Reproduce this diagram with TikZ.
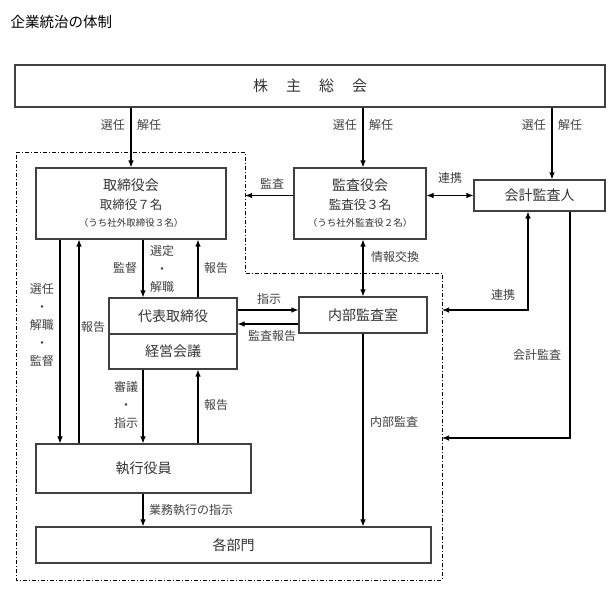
\documentclass[tikz,border=0pt]{standalone}
\usepackage{fontspec}
\setmainfont{Noto Sans CJK JP}
\usetikzlibrary{arrows.meta}

\begin{document}
\begin{tikzpicture}[x=1pt, y=-1pt, >={Latex[length=7pt,width=5.5pt]},
  box/.style={draw=black!75, line width=1.1pt, inner sep=0pt, align=center,
    font=\fontsize{14}{16}\selectfont, text=black!80},
  lbl/.style={font=\fontsize{12}{18}\selectfont, text=black!75, inner sep=1pt, align=center},
  arr/.style={->, line width=1.1pt},
  govframe/.style={line width=0.8pt, dash pattern=on 4pt off 2pt on 1pt off 2pt}]

\def \xdown {143} % down arrows in the middle column
\def \xup {198}   % up arrows (報告)

\useasboundingbox (0,0) rectangle (614,601);

\node[anchor=west, font=\fontsize{14.5}{16}\selectfont] (title) at (7,22) {企業統治の体制};

% boxes
\node[box, minimum width=590pt, minimum height=42pt, font=\fontsize{15}{16}\selectfont] (soukai) at (310,86)
  {株\hspace{18pt}主\hspace{18pt}総\hspace{18pt}会};
\node[box, minimum width=190pt, minimum height=71pt] (torishimari) at (131,203.5)
  {取締役会\\[3pt]{\fontsize{12.5}{14}\selectfont 取締役７名}\\[1pt]{\fontsize{9.5}{12}\selectfont （うち社外取締役３名）}};
\node[box, minimum width=132pt, minimum height=71pt] (kansayaku) at (360,203.5)
  {監査役会\\[3pt]{\fontsize{12.5}{14}\selectfont 監査役３名}\\[1pt]{\fontsize{9.5}{12}\selectfont （うち社外監査役２名）}};
\node[box, minimum width=131pt, minimum height=31pt] (kaikei) at (539.5,195.5) {会計監査人};
\node[box, minimum width=128pt, minimum height=36pt] (daihyo) at (173,316) {代表取締役};
\node[box, minimum width=128pt, minimum height=35pt] (keiei) at (173,351.5) {経営会議};
\node[box, minimum width=128pt, minimum height=36pt] (naibu) at (363,315) {内部監査室};
\node[box, minimum width=215pt, minimum height=49pt] (shikko) at (143.5,468.5) {執行役員};
\node[box, minimum width=395pt, minimum height=36pt] (kakubu) at (233.5,545) {各部門};

% dash-dot frame
\coordinate (frameNW) at (16,152);
\coordinate (frameN) at (245,152);
\coordinate (frameM) at (245,273);
\coordinate (frameE) at (442,273);
\coordinate (frameSE) at (442,580);
\coordinate (frameSW) at (16,580);
\draw[govframe] (frameNW) -- (frameN) -- (frameM) -- (frameE) -- (frameSE) -- (frameSW) -- cycle;

% 株主総会
\foreach \x/\tgt in {131/torishimari, 363/kansayaku, 552/kaikei}
{
	\draw[arr] (soukai.south -| \x,0) -- (\tgt.north -| \x,0);
	\node[lbl, anchor=east] at (\x-5,125) {選任};
	\node[lbl, anchor=west] at (\x+5,125) {解任};
}

% 監査役会, 会計監査人
\draw[arr] (kansayaku.west |- kaikei.west) -- (frameN |- kaikei.west);
\node[lbl] (lkansa) at (272,184) {監査};
\draw[<->, line width=1.1pt] (kansayaku.east |- kaikei.west) -- (kaikei.west);
\node[lbl] (lrenkei) at (450,178) {連携};
\draw[<->, line width=1.1pt] (kansayaku.south -| naibu.north) -- (naibu.north);
\node[lbl] (ljoho) at (395,257) {情報交換};

\coordinate (renkei) at (528,310);
\draw[<->, line width=1.1pt] (kaikei.south -| renkei) -- (renkei) -- (frameE |- renkei);
\node[lbl] (lrenkei2) at (503,295) {連携};
\coordinate (kkansa) at (570,438);
\draw[arr] (kaikei.south -| kkansa) -- (kkansa) -- (frameE |- kkansa);
\node[lbl] (lkkansa) at (537,355) {会計監査};

% 取締役会 -- 代表取締役 -- 執行役員
\draw[arr] (torishimari.south -| \xdown,0) -- (daihyo.north -| \xdown,0);
\draw[arr] (daihyo.north -| \xup,0) -- (torishimari.south -| \xup,0);
\node[lbl] (lkantoku) at (125,268) {監督};
\node[lbl] (lsentei) at (162,269) {選定\\・\\解職};
\node[lbl] (lhoukoku1) at (216,268) {報告};

\draw[arr] (torishimari.south -| 60,0) -- (shikko.north -| 60,0);
\draw[arr] (shikko.north -| 79,0) -- (torishimari.south -| 79,0);
\node[lbl] (lsennin) at (42,325) {選任\\・\\解職\\・\\監督};
\node[lbl] (lhoukoku2) at (93,327) {報告};

\draw[arr] (keiei.south -| \xdown,0) -- (shikko.north -| \xdown,0);
\draw[arr] (shikko.north -| \xup,0) -- (keiei.south -| \xup,0);
\node[lbl] (lshingi) at (126,405) {審議\\・\\指示};
\node[lbl] (lhoukoku3) at (216,405) {報告};

% 内部監査室
\draw[arr] (daihyo.east |- 0,310) -- (naibu.west |- 0,310);
\node[lbl] (lshiji) at (269,299) {指示};
\draw[arr] (naibu.west |- 0,324) -- (daihyo.east |- 0,324);
\node[lbl] (lkansahoukoku) at (272,336) {監査報告};
\draw[arr] (naibu.south) -- (kakubu.north -| naibu.south);
\node[lbl] (lnaibu) at (394,422) {内部監査};

\draw[arr] (shikko.south -| \xdown,0) -- (kakubu.north -| \xdown,0);
\node[lbl, anchor=west] (lgyomu) at (148,510) {業務執行の指示};

\end{tikzpicture}
\end{document}
